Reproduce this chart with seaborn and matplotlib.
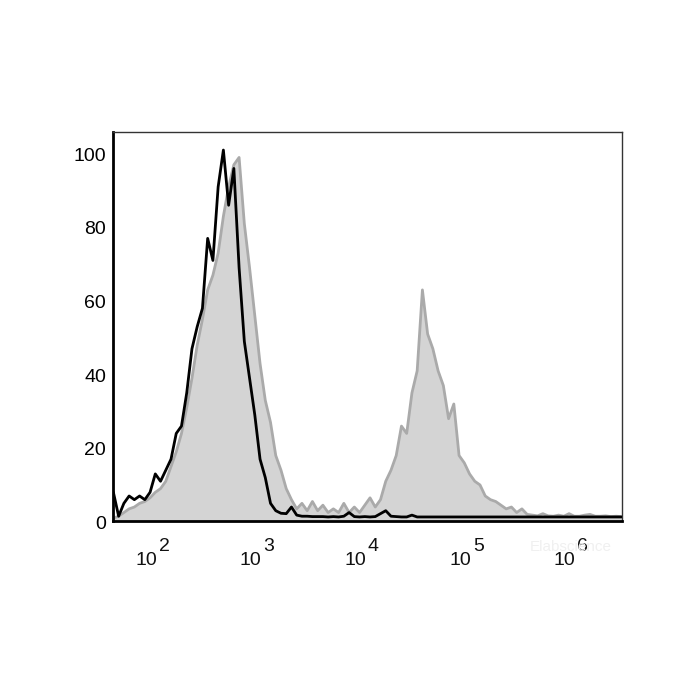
import numpy as np
import pandas as pd
import matplotlib
matplotlib.use("Agg")
import matplotlib.pyplot as plt
import matplotlib.ticker as mticker
import matplotlib.transforms as mtransforms
import seaborn as sns

# =========================================================
# DATA (log10 of fluorescence, % of max)
# =========================================================
log_x = [
    1.67, 1.72, 1.77, 1.82, 1.87, 1.92, 1.97, 2.02, 2.07, 2.12,
    2.17, 2.22, 2.27, 2.32, 2.37, 2.42, 2.47, 2.52, 2.57, 2.62,
    2.67, 2.72, 2.77, 2.82, 2.87, 2.92, 2.97, 3.02, 3.07, 3.12,
    3.17, 3.22, 3.27, 3.32, 3.37, 3.42, 3.47, 3.52, 3.57, 3.62,
    3.67, 3.72, 3.77, 3.82, 3.87, 3.92, 3.97, 4.02, 4.07, 4.12,
    4.17, 4.22, 4.27, 4.32, 4.37, 4.42, 4.47, 4.52, 4.57, 4.62,
    4.67, 4.72, 4.77, 4.82, 4.87, 4.92, 4.97, 5.02, 5.07, 5.12,
    5.17, 5.22, 5.27, 5.32, 5.37, 5.42, 5.47, 5.52, 5.57, 5.62,
    5.67, 5.72, 5.77, 5.82, 5.87, 5.92, 5.97, 6.02, 6.07, 6.12,
    6.17, 6.22, 6.27, 6.32, 6.37, 6.42, 6.47, 6.52,
]

stained = [
    0, 0.5, 1.5, 2.5, 3, 4, 4.5, 5.5, 7, 8,
    10, 14, 18, 23, 30, 38, 47, 54, 62, 66,
    72, 82, 90, 96, 98, 80, 68, 55, 42, 32,
    26, 17, 13, 8, 5, 2.5, 4, 2, 4.5, 2,
    3.5, 1.5, 2.5, 1.5, 4, 1.5, 3, 1.5, 3.5, 5.5,
    3, 5, 10, 13, 17, 25, 23, 34, 40, 62,
    50, 46, 40, 36, 27, 31, 17, 15, 12, 10,
    9, 6, 5, 4.5, 3.5, 2.5, 3, 1.5, 2.5, 1,
    0.8, 0.6, 1.2, 0.6, 0.5, 0.8, 0.5, 1.2, 0.5, 0.5,
    0.8, 1, 0.5, 0.5, 0.6, 0.4, 0.5, 0.4,
]

control = [
    7, 0.5, 4, 6, 5, 6, 5, 7, 12, 10,
    13, 16, 23, 25, 34, 46, 52, 57, 76, 70,
    90, 100, 85, 95, 68, 48, 38, 28, 16, 11,
    4, 2, 1.3, 1.2, 3, 0.8, 0.5, 0.5, 0.4, 0.4,
    0.4, 0.3, 0.4, 0.3, 0.5, 1.5, 0.4, 0.3, 0.4, 0.3,
    0.4, 1.2, 2, 0.5, 0.4, 0.3, 0.3, 0.8, 0.3, 0.3,
    0.3, 0.3, 0.3, 0.3, 0.3, 0.3, 0.3, 0.3, 0.3, 0.3,
    0.3, 0.3, 0.3, 0.3, 0.3, 0.3, 0.3, 0.3, 0.3, 0.3,
    0.3, 0.3, 0.3, 0.3, 0.3, 0.3, 0.3, 0.3, 0.3, 0.3,
    0.3, 0.3, 0.3, 0.3, 0.3, 0.3, 0.3, 0.3,
]

y_ticks = [0, 20, 40, 60, 80, 100]
x_decades = [2, 3, 4, 5, 6]

df = pd.DataFrame({
    "fl": [10 ** v for v in log_x],
    "stained": stained,
    "control": control,
})

# =========================================================
# PLOT
# =========================================================
sns.set_style("white")
plt.rcParams["font.family"] = ["Liberation Sans", "DejaVu Sans"]

fig = plt.figure(figsize=(7, 7), dpi=100)
ax = fig.add_axes([0.1614, 0.2557, 0.7271, 0.5557])

ax.fill_between(df["fl"], df["stained"], -5, color="#d4d4d4", linewidth=0, zorder=1)
sns.lineplot(data=df, x="fl", y="stained", ax=ax, color="#aaaaaa", linewidth=2.0, zorder=2)
sns.lineplot(data=df, x="fl", y="control", ax=ax, color="black", linewidth=2.0, zorder=3)

ax.set_xscale("log")
ax.set_xlim(10 ** 1.666, 10 ** 6.525)
ax.set_ylim(-0.8, 104.9)

# x ticks: marks only, labels drawn as "10" + raised exponent
ax.set_xticks([10 ** d for d in x_decades])
ax.set_xticklabels([])
ax.xaxis.set_minor_locator(mticker.LogLocator(base=10, subs=np.arange(2, 10), numticks=20))
ax.xaxis.set_minor_formatter(mticker.NullFormatter())
ax.tick_params(axis="x", which="major", direction="out", length=4, width=1, colors="black")
ax.tick_params(axis="x", which="minor", direction="out", length=2, width=0.8, colors="black")

for d in x_decades:
    ax.annotate("10", xy=(10 ** d, 0), xycoords=("data", "axes fraction"),
                xytext=(-1.5, -28.5), textcoords="offset points",
                ha="center", va="center", fontsize=14, color="#111111")
    ax.annotate(str(d), xy=(10 ** d, 0), xycoords=("data", "axes fraction"),
                xytext=(11.5, -18.5), textcoords="offset points",
                ha="center", va="center", fontsize=14, color="#111111")

ax.set_yticks(y_ticks)
ax.set_yticklabels([str(v) for v in y_ticks], fontsize=14, color="#111111")
ax.tick_params(axis="y", which="major", direction="out", length=3, width=1, pad=2, colors="black")
shift = mtransforms.ScaledTranslation(0, -3 / 72, fig.dpi_scale_trans)
for lbl in ax.get_yticklabels():
    lbl.set_transform(lbl.get_transform() + shift)

ax.set_xlabel("")
ax.set_ylabel("")

for side in ["top", "right"]:
    ax.spines[side].set_linewidth(1.0)
    ax.spines[side].set_color("#333333")
for side in ["left", "bottom"]:
    ax.spines[side].set_linewidth(2.0)
    ax.spines[side].set_color("black")

fig.text(0.815, 0.218, "Elabscience", fontsize=11, color="#f0f0f0", ha="center", va="center")

fig.savefig("out.png", dpi=100)
plt.close()
